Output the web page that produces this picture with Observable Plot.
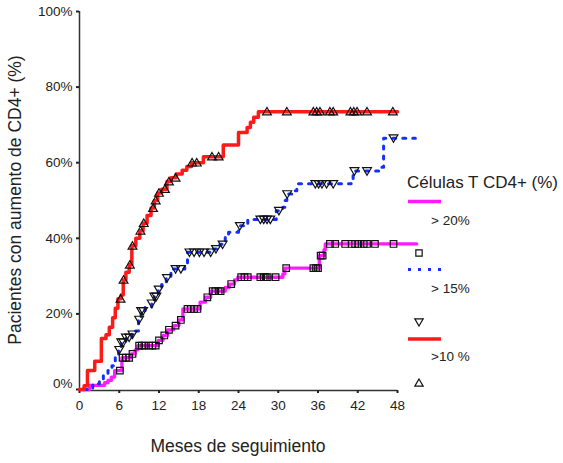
<!DOCTYPE html>
<html>
<head>
<meta charset="utf-8">
<script src="https://cdn.jsdelivr.net/npm/d3@7"></script>
<script src="https://cdn.jsdelivr.net/npm/@observablehq/plot@0.6"></script>
<style>
  body { margin: 0; background: #fff; font-family: "Liberation Sans", Arial, sans-serif; }
  #wrap { position: relative; width: 563px; height: 463px; overflow: hidden; }
  .lbl { position: absolute; font-size: 17.5px; color: #222; white-space: nowrap; line-height: 20px; }
  #legend { position: absolute; left: 0; top: 0; pointer-events: none; }
</style>
</head>
<body>
<div id="wrap">
  <div id="chart"></div>
  <div class="lbl" id="ylab" style="left:-185px; top:190px; width:400px; text-align:center; transform: rotate(-90deg);">Pacientes con aumento de CD4+ (%)</div>
  <div class="lbl" id="xlab" style="left:38px; top:436px; width:400px; text-align:center;">Meses de seguimiento</div>
  <svg id="legend" width="563" height="463"></svg>
</div>
<script>
// ---- Data (months, cumulative %) ----
const xTicks = [0, 6, 12, 18, 24, 30, 36, 42, 48];
const yTicks = [0, 20, 40, 60, 80, 100];

// >10 % (red) step curve
const redT = [0, 0.7, 1.2, 2.3, 3.3, 4.0, 4.5, 5.0, 5.4, 5.8, 6.3, 6.6, 7.0, 7.5, 7.9, 8.5, 9.1, 9.6, 10.2, 10.8, 11.3, 11.8, 12.4, 13.2, 13.8, 14.6, 15.5, 16.2, 16.9, 18.7, 21.7, 24.0, 25.3, 25.8, 26.3, 27.0, 48.0];
const redP = [0, 1, 5, 7.5, 13.5, 14.5, 16.5, 19, 21.5, 24, 25, 29, 31, 33, 38, 40, 42, 44, 46, 48, 50, 52, 53, 55, 56, 57, 58, 59, 60, 61.6, 64.7, 68, 69.3, 70.7, 72, 73.5, 73.5];
const redCens = [6.2, 6.65, 7.6, 8.0, 9.2, 9.7, 11.1, 11.5, 12.0, 12.9, 13.5, 14.5, 17.0, 17.7, 20.0, 21.0, 28.3, 31.3, 35.3, 35.8, 36.3, 37.8, 38.3, 40.9, 41.4, 41.9, 43.4, 47.3];

// >15% (blue) step curve
const blueT = [0.7, 2.0, 3.0, 3.6, 4.3, 4.9, 5.4, 5.9, 6.3, 7.0, 7.9, 8.4, 8.9, 9.3, 9.9, 10.9, 11.3, 11.9, 12.4, 13.1, 13.8, 15.9, 16.3, 20.2, 21.2, 22.0, 22.5, 24.0, 25.4, 29.7, 30.7, 31.0, 31.3, 32.3, 32.8, 41.0, 41.3, 45.6, 45.9, 50.7];
const blueP = [0, 1.5, 2.8, 4.1, 5, 6.3, 8.5, 10.5, 12.5, 13.8, 14.6, 15.5, 18.5, 20.8, 21.8, 22.8, 24.6, 26.5, 27.8, 29.5, 31.9, 32.8, 36.3, 37.2, 38.4, 40.3, 41.6, 43.3, 45.0, 47.3, 48.2, 50.0, 51.7, 52.6, 54.4, 55.2, 57.8, 58.8, 66.5, 66.5];
const blueCens = [6.0, 6.3, 6.6, 7.0, 7.5, 8.0, 9.0, 9.3, 9.6, 10.9, 11.3, 11.6, 11.95, 13.2, 14.5, 15.3, 16.6, 17.3, 18.1, 18.8, 19.8, 20.6, 21.6, 24.2, 27.3, 27.8, 28.3, 28.8, 30.1, 31.35, 35.6, 36.1, 36.6, 37.3, 38.3, 41.5, 43.4, 47.4];

// > 20% (magenta) step curve
const magT = [0.7, 1.5, 3.8, 4.3, 4.8, 5.3, 6.4, 7.8, 8.4, 8.8, 11.9, 12.6, 13.3, 14.2, 15.0, 15.6, 18.2, 19.0, 19.8, 22.0, 22.6, 23.4, 23.9, 30.7, 31.0, 36.2, 36.9, 37.1, 50.9];
const magP = [0, 1.1, 1.8, 2.4, 3.3, 5, 8.4, 9.4, 10.5, 11.6, 13, 14.3, 15.8, 16.9, 18.4, 21.3, 23.1, 24.4, 26, 27, 27.9, 29, 29.7, 30.6, 32.1, 35.4, 37, 38.5, 38.5];
const magCens = [6.1, 6.5, 7.0, 7.5, 8.0, 9.0, 9.4, 9.8, 10.5, 11.0, 11.5, 12.0, 12.8, 13.5, 14.5, 15.3, 16.3, 16.8, 17.3, 17.8, 19.3, 20.1, 20.5, 21.0, 21.3, 22.9, 24.4, 24.9, 25.4, 27.3, 27.8, 28.1, 28.4, 29.6, 31.2, 35.3, 35.7, 36.0, 36.4, 36.7, 37.8, 38.6, 40.1, 41.1, 41.6, 42.1, 42.9, 43.4, 44.6, 47.4];

const legendTitle = "Células T CD4+ (%)";
const seriesNames = ["> 20%", "> 15%", ">10 %"];
const colors = {red: "#ff1a1a", blue: "#1430ff", magenta: "#ff1aff"};

// ---- helpers ----
const toRows = (T, P) => T.map((t, i) => ({t, p: P[i]}));
const valueAt = (T, P, t) => { let v = P[0]; for (let i = 0; i < T.length; i++) if (T[i] <= t) v = P[i]; return v; };
const cens = (C, T, P) => C.map(t => ({t, p: valueAt(T, P, t)}));

const triUp = { draw(ctx, size) { const r = Math.sqrt(size / Math.PI); ctx.moveTo(0, -r * 0.95); ctx.lineTo(r, r * 0.75); ctx.lineTo(-r, r * 0.75); ctx.closePath(); } };
const triDown = { draw(ctx, size) { const r = Math.sqrt(size / Math.PI); ctx.moveTo(0, r * 0.95); ctx.lineTo(r, -r * 0.75); ctx.lineTo(-r, -r * 0.75); ctx.closePath(); } };

const fmt = d => d + "%";

const chart = Plot.plot({
  width: 563,
  height: 463,
  marginLeft: 79,
  marginRight: 166,
  marginTop: 11,
  marginBottom: 74,
  x: {domain: [0, 48]},
  y: {domain: [0, 100]},
  style: {fontFamily: "Liberation Sans, Arial, sans-serif", fontSize: "13.5px", color: "#222", background: "white"},
  marks: [
    Plot.ruleX([0], {y1: 0, y2: 100, stroke: "#333", strokeWidth: 1.5}),
    Plot.ruleY([0], {x1: 0, x2: 48, stroke: "#333", strokeWidth: 1.5, dy: 1}),
    Plot.axisX({ticks: xTicks, tickSize: 3, tickPadding: 7, tickFormat: d => d, label: null, strokeWidth: 2, stroke: "#222", dy: 1}),
    Plot.axisY({ticks: yTicks, tickSize: 3, tickPadding: 4, tickFormat: d => d === 0 ? "" : fmt(d), label: null, strokeWidth: 2, stroke: "#222"}),
    Plot.axisY({ticks: [0], tickSize: 0, tickPadding: 7, tickFormat: fmt, label: null, dy: -6}),
    Plot.line(toRows(magT, magP), {x: "t", y: "p", curve: "step-after", stroke: colors.magenta, strokeWidth: 3.3, clip: false}),
    Plot.line(toRows(blueT, blueP), {x: "t", y: "p", curve: "step-after", stroke: colors.blue, strokeWidth: 3, strokeDasharray: "3,7", clip: false}),
    Plot.line(toRows(redT, redP), {x: "t", y: "p", curve: "step-after", stroke: colors.red, strokeWidth: 3.5, clip: false}),
    Plot.dot(cens(magCens, magT, magP), {x: "t", y: "p", symbol: "square", r: 3.7, stroke: "#111", strokeWidth: 1.2, fill: "none"}),
    Plot.dot(cens(blueCens, blueT, blueP), {x: "t", y: "p", symbol: triDown, r: 4.4, stroke: "#111", strokeWidth: 1.2, fill: "none"}),
    Plot.dot(cens(redCens, redT, redP), {x: "t", y: "p", symbol: triUp, r: 4.4, stroke: "#111", strokeWidth: 1.2, fill: "none"})
  ]
});
document.getElementById("chart").appendChild(chart);

// ---- legend ----
const lg = d3.select("#legend");
const font = "Liberation Sans, Arial, sans-serif";
lg.append("text").attr("x", 407).attr("y", 188).attr("font-family", font).attr("font-size", 17).attr("fill", "#222").text(legendTitle);
const items = [
  {name: seriesNames[0], color: colors.magenta, dash: null, w: 3.3, sym: "sq"},
  {name: seriesNames[1], color: colors.blue, dash: "3,7", w: 3, sym: "down"},
  {name: seriesNames[2], color: colors.red, dash: null, w: 3.5, sym: "up"}
];
const lineY = [201.5, 269.5, 339];
const textY = [220, 288, 356];
const symY = [253, 322, 383];
items.forEach((it, i) => {
  const l = lg.append("line").attr("x1", 408).attr("x2", 441).attr("y1", lineY[i]).attr("y2", lineY[i]).attr("stroke", it.color).attr("stroke-width", it.w);
  if (it.dash) l.attr("stroke-dasharray", it.dash);
  lg.append("text").attr("x", 431).attr("y", textY[i]).attr("dy", "0.35em").attr("font-family", font).attr("font-size", 13.5).attr("fill", "#222").text(it.name);
  const sym = it.sym === "sq" ? d3.symbol(d3.symbolSquare, 40) : d3.symbol(it.sym === "up" ? triUp : triDown, 55);
  lg.append("path").attr("transform", `translate(419,${symY[i]})`).attr("d", sym()).attr("fill", "none").attr("stroke", "#111").attr("stroke-width", 1.2);
});
</script>
</body>
</html>
